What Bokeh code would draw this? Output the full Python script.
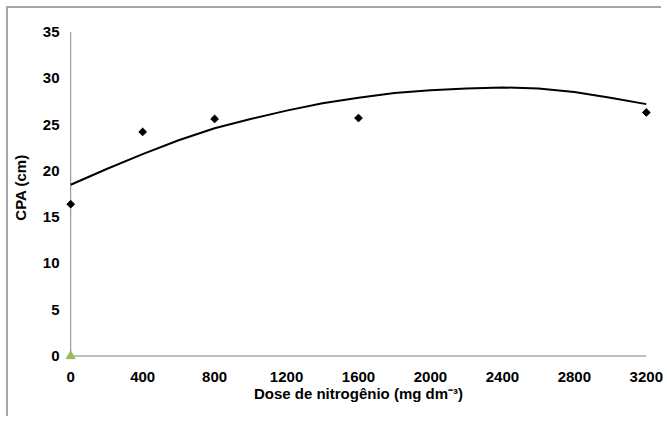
from bokeh.plotting import figure
from bokeh.models import Range1d, FixedTicker
from bokeh.embed import file_html
from bokeh.resources import INLINE
import math

# ---- data ----
doses = [0, 400, 800, 1600, 3200]
cpa = [16.4, 24.2, 25.6, 25.7, 26.3]

trend_x = [0, 200, 400, 600, 800, 1000, 1200, 1400, 1600, 1800,
           2000, 2200, 2400, 2600, 2800, 3000, 3200]
trend_y = [18.5, 20.2, 21.8, 23.3, 24.6, 25.6, 26.5, 27.3, 27.9, 28.4,
           28.7, 28.9, 29.0, 28.9, 28.5, 27.9, 27.2]

origin_x = [0]
origin_y = [0]

x_ticks = [0, 400, 800, 1200, 1600, 2000, 2400, 2800, 3200]
y_ticks = [0, 5, 10, 15, 20, 25, 30, 35]

FONT = "Liberation Sans"

p = figure(width=655, height=410, output_backend="svg", toolbar_location=None,
           x_range=Range1d(-40, 3240), y_range=Range1d(-0.8, 37.2),
           min_border_left=53, min_border_right=10, min_border_top=3,
           min_border_bottom=55)
p.styles = {"margin-left": "8px", "margin-top": "8px",
            "box-shadow": "-2px -2px 0 0 #a6a6a6"}
p.outline_line_color = None
p.grid.visible = False
p.background_fill_color = "white"
p.border_fill_color = "white"

for ax in (p.xaxis[0], p.yaxis[0]):
    ax.axis_line_color = None
    ax.major_tick_line_color = None
    ax.minor_tick_line_color = None
    ax.major_tick_out = 0
    ax.major_tick_in = 0
    ax.minor_tick_out = 0
    ax.minor_tick_in = 0
    ax.major_label_text_font = FONT
    ax.major_label_text_font_style = "bold"
    ax.major_label_text_font_size = "15px"
    ax.major_label_text_color = "black"
    ax.axis_label_text_font = FONT
    ax.axis_label_text_font_style = "bold"
    ax.axis_label_text_font_size = "15px"
    ax.axis_label_text_color = "black"

p.xaxis.ticker = FixedTicker(ticks=x_ticks)
p.yaxis.ticker = FixedTicker(ticks=y_ticks)
p.xaxis.major_label_standoff = 8
p.yaxis.major_label_standoff = 4
p.xaxis.axis_label = "Dose de nitrogênio (mg dm\u207b\u00b3)"
p.yaxis.axis_label = "CPA (cm)"
p.xaxis.axis_label_standoff = 0
p.yaxis.axis_label_standoff = 11

# axis lines drawn at the data origin
p.line([x_ticks[0], x_ticks[-1]], [y_ticks[0], y_ticks[0]], line_color="#bfbfbf", line_width=2)
p.line([x_ticks[0], x_ticks[0]], [y_ticks[0], y_ticks[-1]], line_color="#868686", line_width=1)

p.line(trend_x, trend_y, line_color="black", line_width=2)
p.scatter(doses, cpa, marker="square", angle=math.pi / 4, size=5.5,
          fill_color="black", line_color="black", line_width=1)
p.scatter(origin_x, origin_y, marker="triangle", size=9,
          fill_color="#9bbb59", line_color="#9bbb59")

html = file_html(p, INLINE)
html = html.replace("<body>", '<body style="overflow:hidden">', 1)
open("out.html", "w").write(html)
